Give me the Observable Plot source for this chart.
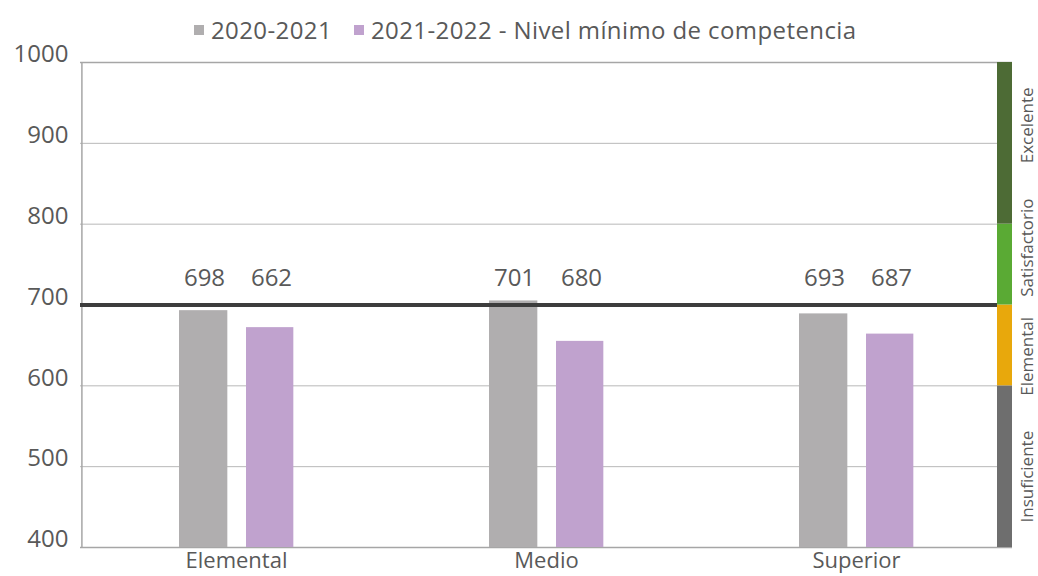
<!DOCTYPE html>
<html>
<head>
<meta charset="utf-8">
<script src="https://cdn.jsdelivr.net/npm/d3@7"></script>
<script src="https://cdn.jsdelivr.net/npm/@observablehq/plot@0.6"></script>
<style>
  html, body { margin: 0; padding: 0; background: #fff; width: 1038px; height: 576px; overflow: hidden; }
  body { font-family: "Open Sans", sans-serif; color: #595959; }
  #legend { position: relative; height: 45px; }
  #legend .item { position: absolute; top: 13px; font-size: 24px; line-height: 34px; white-space: nowrap; letter-spacing: 0.4px; }
  #legend .sw { position: absolute; top: 25px; width: 10px; height: 10px; }
  #chart svg { overflow: visible; display: block; }
</style>
</head>
<body>
<div id="legend"></div>
<div id="chart"></div>
<script>
// ---- data ----
const categories = ["Elemental", "Medio", "Superior"];
const series = ["2020-2021", "2021-2022"];
const values2020 = [693, 705, 689];
const values2021 = [672, 655, 664];
const labels2020 = ["698", "701", "693"];
const labels2021 = ["662", "680", "687"];
const thresholdLabel = "Nivel mínimo de competencia";
const threshold = 700;
const yTicks = [400, 500, 600, 700, 800, 900, 1000];
const levelNames = ["Insuficiente", "Elemental", "Satisfactorio", "Excelente"];
const levelFrom = [400, 600, 700, 800];
const levelTo = [600, 700, 800, 1000];

// ---- styles ----
const colors = ["#b0aeaf", "#c0a2ce"];
const levelColors = ["#6e6e6e", "#e8a80c", "#5aaa34", "#4d6b35"];
const levelLabelDy = [10, 11, -17, -18];
const textColor = "#595959";

// legend
const legend = document.getElementById("legend");
legend.innerHTML = `
  <span class="sw" style="left:194px;background:${colors[0]}"></span>
  <span class="item" style="left:211px">${series[0]}</span>
  <span class="sw" style="left:354px;background:${colors[1]}"></span>
  <span class="item" style="left:371px">${series[1]} - ${thresholdLabel}</span>`;

const rows = categories.map((c, i) => ({cat: c, a: values2020[i], b: values2021[i], la: labels2020[i], lb: labels2021[i]}));
const levels = levelNames.map((n, i) => ({name: n, y1: levelFrom[i], y2: levelTo[i], color: levelColors[i]}));

const levelTextMarks = levels.map((lv, i) =>
  Plot.text([lv], {y: d => (d.y1 + d.y2) / 2, text: "name", frameAnchor: "right", dx: 15, dy: levelLabelDy[i], rotate: -90, fontSize: 17, fill: textColor, lineAnchor: "middle", textAnchor: "middle"})
);

const chart = Plot.plot({
  width: 1038,
  height: 531,
  marginTop: 17,
  marginBottom: 29,
  marginLeft: 80,
  marginRight: 26,
  style: {fontFamily: "'Open Sans', sans-serif", color: textColor, background: "transparent"},
  x: {domain: categories, padding: 0, axis: null},
  y: {domain: [400, 1000], axis: null},
  marks: [
    // gridlines
    Plot.ruleY(yTicks.filter(t => t > 400 && t < 1000), {stroke: "#b8b8b8", strokeWidth: 1, insetRight: 15}),
    Plot.ruleY([1000], {stroke: "#a6a6a6", strokeWidth: 1.5}),
    Plot.ruleY([400], {stroke: "#a6a6a6", strokeWidth: 1.5}),
    Plot.ruleX([categories[0]], {x: d => d, y1: 400, y2: 1000, dx: -154.6, stroke: "#a6a6a6", strokeWidth: 1.5}),
    // bars
    Plot.barY(rows, {x: "cat", y: "a", fill: colors[0], insetLeft: 98, insetRight: 163.67, clip: true}),
    Plot.barY(rows, {x: "cat", y: "b", fill: colors[1], insetLeft: 165, insetRight: 97.67, clip: true}),
    // threshold line
    Plot.ruleY([threshold], {stroke: "#3d3d3d", strokeWidth: 4, insetRight: 15}),
    // value labels
    Plot.text(rows, {x: "cat", y: () => threshold, text: "la", dx: -32, dy: -27, fontSize: 24, fill: textColor, lineAnchor: "middle"}),
    Plot.text(rows, {x: "cat", y: () => threshold, text: "lb", dx: 35, dy: -27, fontSize: 24, fill: textColor, lineAnchor: "middle"}),
    // level strip
    Plot.rectY(levels, {y1: "y1", y2: "y2", fill: "color", insetLeft: 917}),
    ...levelTextMarks,
    // y tick labels
    Plot.text(yTicks, {y: d => d, text: d => String(d), frameAnchor: "left", dx: -12, dy: -8, textAnchor: "end", fontSize: 24, fill: textColor, lineAnchor: "middle"}),
    // category labels
    Plot.text(categories, {x: d => d, text: d => d, frameAnchor: "bottom", dy: 20, fontSize: 22, fill: textColor, lineAnchor: "bottom"})
  ]
});
document.getElementById("chart").appendChild(chart);
</script>
</body>
</html>
